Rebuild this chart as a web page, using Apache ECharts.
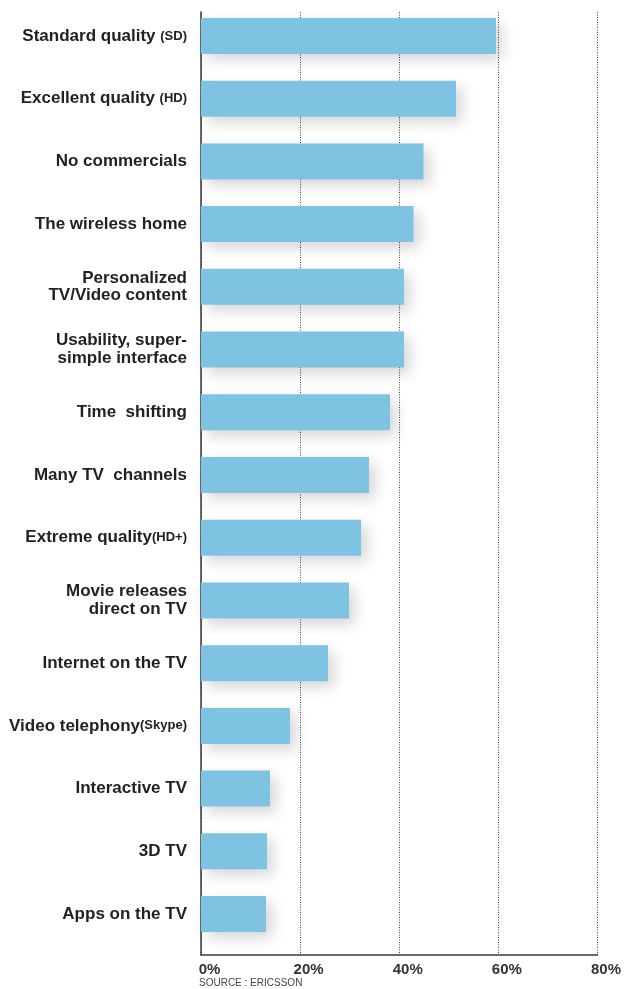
<!DOCTYPE html>
<html>
<head>
<meta charset="utf-8">
<script src="https://cdn.jsdelivr.net/npm/echarts@6/dist/echarts.min.js"></script>
<style>
html,body{margin:0;padding:0;background:#fff;}
#c{width:624px;height:989px;}
</style>
</head>
<body>
<div id="c"></div>
<script>
const categories = [
  "Standard quality (SD)",
  "Excellent quality (HD)",
  "No commercials",
  "The wireless home",
  "Personalized\nTV/Video content",
  "Usability, super-\nsimple interface",
  "Time  shifting",
  "Many TV  channels",
  "Extreme quality(HD+)",
  "Movie releases\ndirect on TV",
  "Internet on the TV",
  "Video telephony(Skype)",
  "Interactive TV",
  "3D TV",
  "Apps on the TV"
];
const values = [59.0, 51.0, 44.5, 42.5, 40.6, 40.6, 37.8, 33.6, 32.0, 29.6, 25.4, 17.8, 13.8, 13.2, 13.0];
const tickValues = [0, 20, 40, 60, 80];
const sourceText = "SOURCE : ERICSSON";

const FONT = "Liberation Sans";

function fmtLabel(name) {
  return name.split("\n").map(function (line) {
    const m = line.match(/^(.*?)(\(.*\))$/);
    if (m) return "{a|" + m[1] + "}{b|" + m[2] + "}";
    return "{a|" + line + "}";
  }).join("\n");
}

const chart = echarts.init(document.getElementById("c"), null, {renderer: "canvas"});
chart.setOption({
  animation: false,
  backgroundColor: "#fff",
  grid: [
    {left: 201, top: 4.6, width: 400, height: 940.8, containLabel: false},
    {left: 201, top: 12, width: 400, height: 943, containLabel: false}
  ],
  xAxis: [
    {gridIndex: 0, type: "value", min: 0, max: 80, interval: 20, show: false},
    {
      gridIndex: 1, type: "value", min: tickValues[0], max: tickValues[tickValues.length - 1], interval: 20,
      axisLine: {show: true, lineStyle: {color: "#3a3a3a", width: 1.5}},
      axisTick: {show: false},
      splitLine: {show: true, lineStyle: {color: "#444", type: [1, 1.5], width: 1}},
      axisLabel: {
        formatter: "{value}%", color: "#333", fontFamily: FONT, fontWeight: "bold",
        fontSize: 15, margin: 7, padding: [0, 0, 0, 17]
      }
    }
  ],
  yAxis: [
    {
      gridIndex: 0, type: "category", data: categories, inverse: true,
      axisLine: {show: false}, axisTick: {show: false}, splitLine: {show: false},
      axisLabel: {
        margin: 14, align: "right", formatter: fmtLabel,
        rich: {
          a: {fontFamily: FONT, fontWeight: "bold", fontSize: 17, color: "#222", lineHeight: 17.5, align: "right"},
          b: {fontFamily: FONT, fontWeight: "bold", fontSize: 13, color: "#222", lineHeight: 17.5, align: "right"}
        }
      }
    },
    {
      gridIndex: 1, type: "value", min: 0, max: 1,
      axisLine: {show: true, lineStyle: {color: "#3a3a3a", width: 1.5}},
      axisTick: {show: false}, axisLabel: {show: false}, splitLine: {show: false}
    }
  ],
  series: [
    {
      type: "bar", xAxisIndex: 0, yAxisIndex: 0, data: values, barWidth: 36,
      itemStyle: {
        color: "#7EC4E2",
        shadowColor: "rgba(0,0,0,0.16)", shadowBlur: 14, shadowOffsetX: 6, shadowOffsetY: 6
      },
      z: 3
    }
  ],
  graphic: [
    {type: "text", left: 199, top: 978, style: {text: sourceText, fill: "#444", font: "10px " + FONT}}
  ]
});
</script>
</body>
</html>
